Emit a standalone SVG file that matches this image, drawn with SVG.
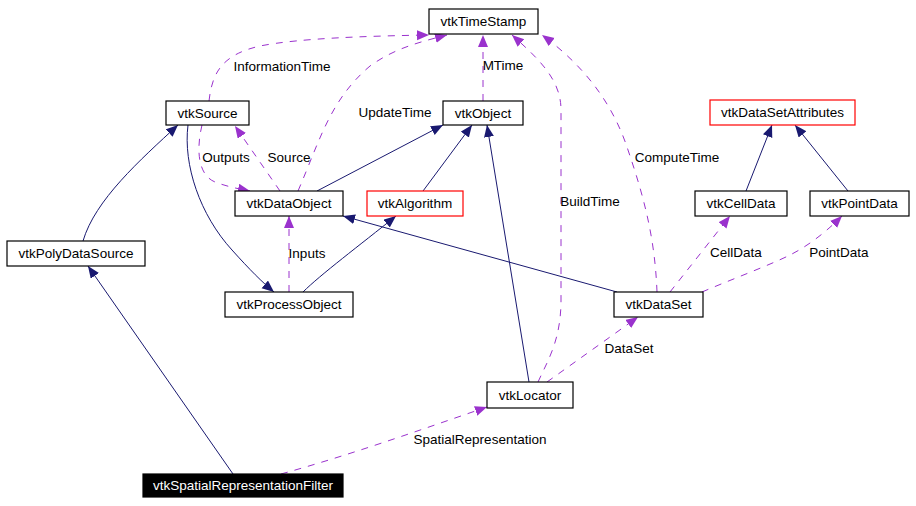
<svg xmlns="http://www.w3.org/2000/svg" width="916" height="506" viewBox="0 0 916 506">
<defs>
<style>
.n rect{fill:#fff;stroke:#000;stroke-width:1.2}
.n.r rect{stroke:#f00}
.n.b rect{fill:#000}
text{font-family:"Liberation Sans",Arial,sans-serif;font-size:13.5px;text-anchor:middle;fill:#000}
.n.b text{fill:#fff}
.i{fill:none;stroke:#191970;stroke-width:1}
.u{fill:none;stroke:#9a32cd;stroke-width:1;stroke-dasharray:7,7}
</style>
<marker id="ai" markerUnits="userSpaceOnUse" markerWidth="14" markerHeight="11" refX="12" refY="5" orient="auto"><path d="M0,0 L12,5 L0,10 z" fill="#191970"/></marker>
<marker id="au" markerUnits="userSpaceOnUse" markerWidth="14" markerHeight="11" refX="12" refY="5" orient="auto"><path d="M0,0 L12,5 L0,10 z" fill="#9a32cd"/></marker>
</defs>
<rect width="916" height="506" fill="#fff"/>
<g id="connectors">
<path class="u" marker-end="url(#au)" d="M209,101 C212,75 220,55 260,46 C300,38 370,36 429,35"/>
<path class="u" marker-end="url(#au)" d="M298,191 C320,140 330,100 370,66 C395,48 420,42 447,35"/>
<path class="u" marker-end="url(#au)" d="M483,101 L483,35"/>
<path class="u" marker-end="url(#au)" d="M538,382 C548,360 561,340 561,300 L561,110 C561,80 540,60 512,35"/>
<path class="u" marker-end="url(#au)" d="M657,292 C655,240 645,200 628,150 C615,110 590,70 542,35"/>
<path class="u" marker-end="url(#au)" d="M280,191 L235,126"/>
<path class="u" marker-end="url(#au)" d="M202,125 C196,150 198,175 215,182 C228,187 240,189 250,191"/>
<path class="u" marker-end="url(#au)" d="M289,292 L289,216"/>
<path class="u" marker-end="url(#au)" d="M670,292 L730,216"/>
<path class="u" marker-end="url(#au)" d="M702,292 C730,280 770,265 790,255 C810,245 828,230 842,216"/>
<path class="u" marker-end="url(#au)" d="M547,382 L638,317"/>
<path class="u" marker-end="url(#au)" d="M281,474 C350,455 420,430 487,407"/>
<path class="i" marker-end="url(#ai)" d="M317,191 L443,125"/>
<path class="i" marker-end="url(#ai)" d="M423,191 L472,125"/>
<path class="i" marker-end="url(#ai)" d="M529,382 L487,125"/>
<path class="i" marker-end="url(#ai)" d="M83,241 C95,200 140,160 178,125"/>
<path class="i" marker-end="url(#ai)" d="M188,125 C183,165 200,215 232,250 C250,270 262,282 274,292"/>
<path class="i" marker-end="url(#ai)" d="M303,292 C320,275 360,245 396,216"/>
<path class="i" marker-end="url(#ai)" d="M617,292 L343,216"/>
<path class="i" marker-end="url(#ai)" d="M746,191 L772,125"/>
<path class="i" marker-end="url(#ai)" d="M848,191 L795,125"/>
<path class="i" marker-end="url(#ai)" d="M233,474 L88,266"/>
<text x="282" y="71">InformationTime</text>
<text x="395" y="117">UpdateTime</text>
<text x="503" y="70">MTime</text>
<text x="590" y="206">BuildTime</text>
<text x="677" y="162">ComputeTime</text>
<text x="289" y="162">Source</text>
<text x="226" y="162">Outputs</text>
<text x="307" y="258">Inputs</text>
<text x="736" y="257">CellData</text>
<text x="839" y="257">PointData</text>
<text x="629" y="353">DataSet</text>
<text x="480" y="444">SpatialRepresentation</text>
</g>
<g id="vtkTimeStamp" class="n"><rect x="429" y="9" width="109" height="25"/><text x="483.5" y="26">vtkTimeStamp</text></g>
<g id="vtkSource" class="n"><rect x="166" y="101" width="83" height="24"/><text x="207.5" y="118">vtkSource</text></g>
<g id="vtkObject" class="n"><rect x="443" y="101" width="80" height="24"/><text x="483" y="118">vtkObject</text></g>
<g id="vtkDataSetAttributes" class="n r"><rect x="710" y="100" width="145" height="25"/><text x="782.5" y="117">vtkDataSetAttributes</text></g>
<g id="vtkDataObject" class="n"><rect x="235" y="191" width="108" height="25"/><text x="289" y="208">vtkDataObject</text></g>
<g id="vtkAlgorithm" class="n r"><rect x="367" y="191" width="96" height="25"/><text x="415" y="208">vtkAlgorithm</text></g>
<g id="vtkCellData" class="n"><rect x="695" y="191" width="92" height="25"/><text x="741" y="208">vtkCellData</text></g>
<g id="vtkPointData" class="n"><rect x="810" y="191" width="99" height="25"/><text x="859.5" y="208">vtkPointData</text></g>
<g id="vtkPolyDataSource" class="n"><rect x="7" y="241" width="138" height="25"/><text x="76" y="258">vtkPolyDataSource</text></g>
<g id="vtkProcessObject" class="n"><rect x="225" y="292" width="128" height="25"/><text x="289" y="309">vtkProcessObject</text></g>
<g id="vtkDataSet" class="n"><rect x="614" y="292" width="89" height="25"/><text x="658.5" y="309">vtkDataSet</text></g>
<g id="vtkLocator" class="n"><rect x="487" y="382" width="86" height="26"/><text x="530" y="400">vtkLocator</text></g>
<g id="vtkSpatialRepresentationFilter" class="n b"><rect x="143" y="474" width="200" height="23"/><text x="243" y="490">vtkSpatialRepresentationFilter</text></g>
</svg>
